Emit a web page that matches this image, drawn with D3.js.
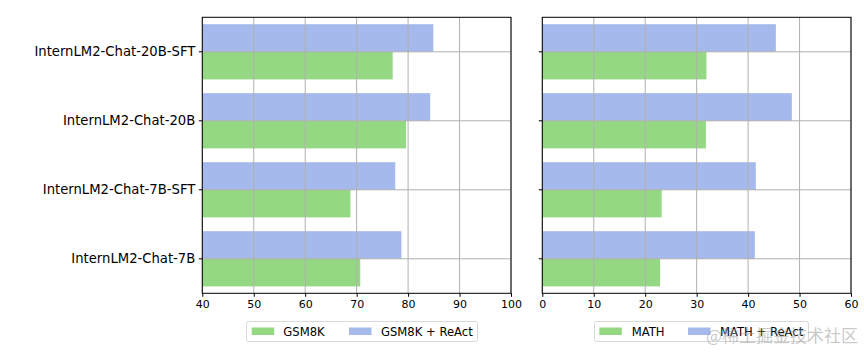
<!DOCTYPE html>
<html>
<head>
<meta charset="utf-8">
<script src="https://cdn.jsdelivr.net/npm/d3@7"></script>
<style>
  body { margin: 0; background: #fff; }
  svg { font-family: "DejaVu Sans", sans-serif; }
</style>
</head>
<body>
<div id="chart"></div>
<script>
// models, top to bottom
const models = ["InternLM2-Chat-20B-SFT", "InternLM2-Chat-20B", "InternLM2-Chat-7B-SFT", "InternLM2-Chat-7B"];

// left panel: GSM8K
const gsm8k = [77.0, 79.6, 68.8, 70.7];
const gsm8kReact = [84.9, 84.3, 77.5, 78.7];
const gsmTicks = [40, 50, 60, 70, 80, 90, 100];

// right panel: MATH
const math = [31.9, 31.8, 23.2, 22.9];
const mathReact = [45.4, 48.5, 41.5, 41.3];
const mathTicks = [0, 10, 20, 30, 40, 50, 60];

const green = "#95d883";
const blue = "#a5b9ec";

let width = 864, height = 352;
let plotTop = 17.3, plotBottom = 293.3;

let svg = d3.select("#chart")
    .append("svg")
    .attr("width", width)
    .attr("height", height);

// y scale shared by both panels
let yScale = d3.scaleBand()
    .domain(models)
    .range([plotTop, plotBottom]);
let bw = yScale.bandwidth();
let yc = function(m) { return yScale(m) + bw / 2; };

function drawPanel(left, right, ticks, base, plus, names, showLabels, legend) {
    let xScale = d3.scaleLinear()
        .domain([ticks[0], ticks[ticks.length - 1]])
        .range([left, right]);
    let g = svg.append("g");

    // blue bars above the tick
    g.selectAll(".plus").data(models).enter().append("rect")
        .attr("x", xScale(ticks[0]))
        .attr("y", function(m) { return yc(m) - 0.4 * bw; })
        .attr("width", function(m, i) { return xScale(plus[i]) - xScale(ticks[0]); })
        .attr("height", 0.4 * bw)
        .attr("fill", blue);

    // green bars below the tick
    g.selectAll(".base").data(models).enter().append("rect")
        .attr("x", xScale(ticks[0]))
        .attr("y", function(m) { return yc(m); })
        .attr("width", function(m, i) { return xScale(base[i]) - xScale(ticks[0]); })
        .attr("height", 0.4 * bw)
        .attr("fill", green);

    // grid on top of the bars
    g.selectAll(".vgrid").data(ticks).enter().append("line")
        .attr("x1", function(d) { return xScale(d); })
        .attr("x2", function(d) { return xScale(d); })
        .attr("y1", plotTop).attr("y2", plotBottom)
        .attr("stroke", "#b0b0b0").attr("stroke-width", 1);
    g.selectAll(".hgrid").data(models).enter().append("line")
        .attr("x1", left).attr("x2", right)
        .attr("y1", yc).attr("y2", yc)
        .attr("stroke", "#b0b0b0").attr("stroke-width", 1);

    // x axis
    let xAxis = g.append("g")
        .attr("transform", "translate(0," + plotBottom + ")")
        .call(d3.axisBottom(xScale).tickValues(ticks).tickSize(3.5).tickPadding(3.5).tickSizeOuter(0));
    xAxis.select(".domain").remove();
    xAxis.selectAll("text").attr("font-size", 11).attr("fill", "#000")
        .attr("font-family", "DejaVu Sans");

    // y axis
    let yAxis = g.append("g")
        .attr("transform", "translate(" + left + ",0)")
        .call(d3.axisLeft(yScale).tickSize(3.5).tickPadding(3.5).tickSizeOuter(0));
    yAxis.select(".domain").remove();
    yAxis.selectAll("text").attr("font-size", 13.2).attr("fill", "#000")
        .attr("font-family", "DejaVu Sans");
    if (!showLabels) yAxis.selectAll("text").remove();

    // frame
    g.append("rect")
        .attr("x", left).attr("y", plotTop)
        .attr("width", right - left).attr("height", plotBottom - plotTop)
        .attr("fill", "none").attr("stroke", "#000").attr("stroke-width", 1);

    // legend
    let lg = g.append("g");
    lg.append("rect")
        .attr("x", legend.x + 0.5).attr("y", 321.5)
        .attr("width", legend.w).attr("height", 20)
        .attr("rx", 2)
        .attr("fill", "#fff").attr("stroke", "#d9d9d9");
    let items = [[green, names[0], legend.p1, legend.t1], [blue, names[1], legend.p2, legend.t2]];
    items.forEach(function(it) {
        lg.append("rect")
            .attr("x", it[2]).attr("y", 327.5)
            .attr("width", 22.5).attr("height", 7.5)
            .attr("fill", it[0]);
        lg.append("text")
            .attr("x", it[3]).attr("y", 335.5)
            .attr("font-size", 11.6)
            .text(it[1]);
    });
}

drawPanel(202.3, 511, gsmTicks, gsm8k, gsm8kReact, ["GSM8K", "GSM8K + ReAct"], true,
    {x: 246, w: 231, p1: 251.7, t1: 283.3, p2: 349, t2: 381});
drawPanel(542.3, 851, mathTicks, math, mathReact, ["MATH", "MATH + ReAct"], false,
    {x: 594, w: 214, p1: 599.3, t1: 631.7, p2: 688, t2: 720});

// watermark
svg.append("text")
    .attr("x", 858).attr("y", 342)
    .attr("text-anchor", "end")
    .attr("font-family", "Noto Sans CJK SC")
    .attr("font-size", 17)
    .attr("fill", "#9a9a9a")
    .attr("fill-opacity", 0.55)
    .text("@稀土掘金技术社区");
</script>
</body>
</html>
